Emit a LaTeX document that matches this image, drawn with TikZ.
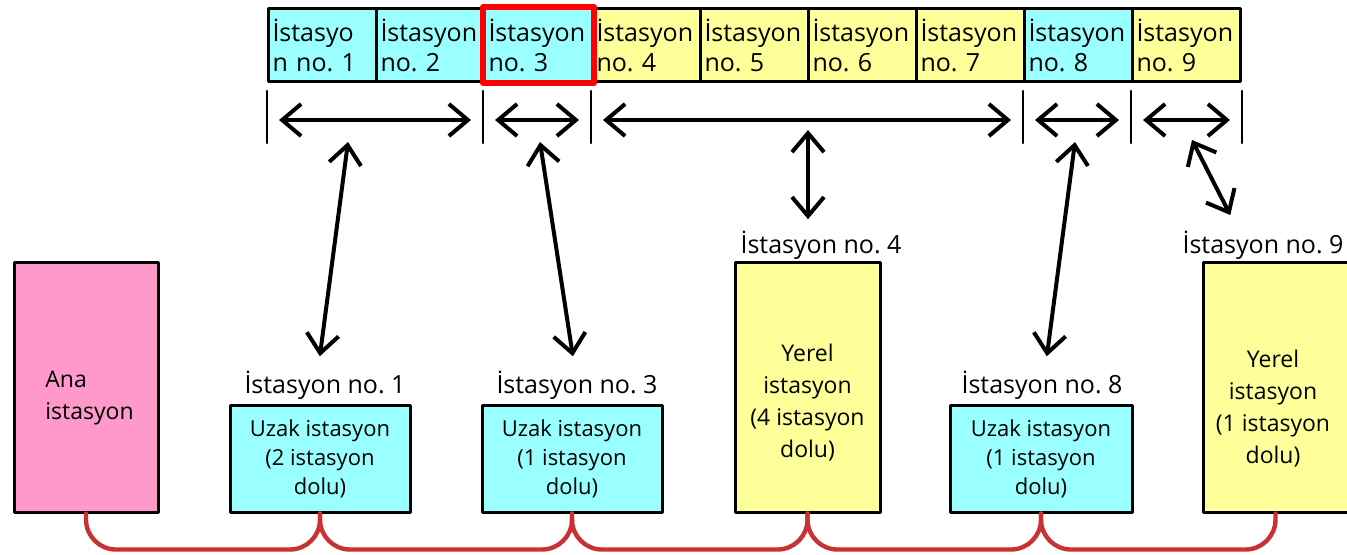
\documentclass[tikz,border=0pt]{standalone}
\usepackage{fontspec}
\setmainfont{Open Sans}
\usetikzlibrary{arrows.meta}
\definecolor{xanh}{RGB}{153,255,255}
\definecolor{vang}{RGB}{255,255,153}
\definecolor{hong}{RGB}{255,153,204}
\definecolor{day}{RGB}{200,50,50}
\begin{document}
\begin{tikzpicture}[x=0.5pt,y=-0.5pt,line join=round,line cap=round,>={Straight Barb[length=9.5pt,width=16pt]},
	o/.style={draw,line width=1.5pt,anchor=north west,minimum width=54pt,minimum height=36.5pt,inner xsep=2pt,inner ysep=0pt,text width=50pt,align=left,font=\fontsize{12.5}{15}\selectfont},
	hop/.style={draw,line width=1.5pt,align=center,inner sep=0pt,font=\fontsize{11}{14.5}\selectfont},
	chu/.style={inner sep=0pt,font=\fontsize{11.5}{16}\selectfont},
	nhan/.style={inner sep=0pt,anchor=base,font=\fontsize{12.5}{15}\selectfont},
	muiten/.style={<->,line width=2pt},
	bus/.style={draw=day,line width=2.2pt,rounded corners=15pt}]
	\useasboundingbox (0,0) rectangle (1347,554);
	% hang tram o tren
	\node[o,fill=xanh] (c1) at (267,7) {İstasyo\\n no.\ 1};
	\foreach \i/\renk in {2/xanh,3/xanh,4/vang,5/vang,6/vang,7/vang,8/xanh,9/vang}
		{\node[o,fill=\renk] (c\i) at ({267+108*(\i-1)},7) {İstasyon\\no.\ \i};}
	\draw[red,line width=2.8pt] (c3.south west) rectangle (c3.north east);
	% vach chia va mui ten ngang
	\foreach \k in {1,3,4,8,9}{\draw[line width=1.2pt] ([yshift=-4pt]c\k.south west) coordinate (t\k) -- ++(0,52);}
	\draw[line width=1.2pt] ([yshift=-4pt]c9.south east) coordinate (t10) -- ++(0,52);
	\foreach \p/\q in {1/3,3/4,4/8,8/9,9/10}{\draw[muiten,shorten <=6pt,shorten >=6pt] ([yshift=-14.5pt]t\p) -- ([yshift=-14.5pt]t\q);}
	% cac tram duoi
	\node[hop,fill=hong,minimum width=72pt,minimum height=125pt] (ana) at (86,387) {};
	\node[chu,anchor=west,align=left] (tana) at (45,398) {Ana\\istasyon};
	\node[hop,fill=xanh,minimum width=90pt,minimum height=53.5pt] (u1) at (320,458.5) {Uzak istasyon\\(2 istasyon\\dolu)};
	\node[hop,fill=xanh,minimum width=90pt,minimum height=53.5pt] (u3) at (572,458.5) {Uzak istasyon\\(1 istasyon\\dolu)};
	\node[hop,fill=vang,minimum width=72.5pt,minimum height=125pt] (y4) at (807.5,387) {};
	\node[chu,align=center] (ty4) at (807.5,403) {Yerel\\istasyon\\(4 istasyon\\dolu)};
	\node[hop,fill=xanh,minimum width=91pt,minimum height=53.5pt] (u8) at (1041,458.5) {Uzak istasyon\\(1 istasyon\\dolu)};
	\node[hop,fill=vang,minimum width=72.5pt,minimum height=125pt] (y9) at (1275.5,387) {};
	\node[chu,align=center] (ty9) at (1273,409) {Yerel\\istasyon\\(1 istasyon\\dolu)};
	\node[nhan] (l1) at (325,393) {İstasyon no.\ 1};
	\node[nhan] (l3) at (577,393) {İstasyon no.\ 3};
	\node[nhan] (l4) at (821,253) {İstasyon no.\ 4};
	\node[nhan] (l8) at (1042,393) {İstasyon no.\ 8};
	\node[nhan] (l9) at (1263,253) {İstasyon no.\ 9};
	% mui ten doc
	\foreach \diemx/\diemy/\ten in {348/142/a1,540/142/a3,808/130/a4,1075/142/a8,1192/140/a9}{\coordinate (\ten) at (\diemx,\diemy);}
	\draw[muiten,shorten >=7pt] (a1) -- ([xshift=-3.5pt]l1.north);
	\draw[muiten,shorten >=7pt] (a3) -- ([xshift=-1pt]l3.north);
	\draw[muiten,shorten >=5.5pt] (a4) -- ([xshift=-6.5pt]l4.north);
	\draw[muiten,shorten >=7pt] (a8) -- ([xshift=1.5pt]l8.north);
	\draw[muiten,shorten >=8.5pt] (a9) -- ([xshift=-12.5pt]l9.north);
	% duong bus
	\foreach \a/\b in {ana/u1,u1/u3,u3/y4,y4/u8,u8/y9}{\draw[bus] (\a.south) -- ++(0,36) -| (\b.south);}
\end{tikzpicture}
\end{document}
